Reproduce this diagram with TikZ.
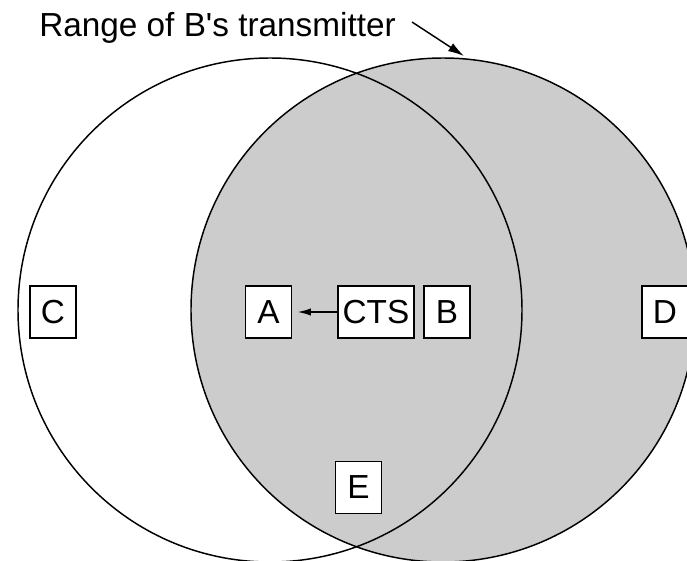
\documentclass[tikz,border=0pt]{standalone}
\usepackage{fontspec}
\setmainfont{Liberation Sans}
\newfontfamily\plainsans{Liberation Sans}
\usetikzlibrary{arrows.meta}
\definecolor{rangegray}{RGB}{204,204,204}
\tikzset{
  station/.style={draw=black, line width=1.1pt, fill=white, inner sep=0pt,
    minimum width=34.5pt, minimum height=39pt, font=\plainsans\fontsize{25}{29}\selectfont},
  rangecircle/.style={draw=black, line width=1.1pt},
  msgarrow/.style={line width=1.1pt, -{Latex[length=10pt,width=5.5pt]}}
}
\begin{document}
\begin{tikzpicture}[x=0.75pt, y=-0.75pt]
\useasboundingbox (0,0) rectangle (687,561);
% circles
\fill[white] (270,310) circle[radius=189pt];
\fill[rangegray] (443,310) circle[radius=189pt];
\draw[rangecircle] (443,310) circle[radius=189pt];
\draw[rangecircle] (270,310) circle[radius=189pt];
% title
\node[anchor=base west, inner sep=0pt, font=\plainsans\fontsize{25}{29}\selectfont] (title) at (39,36) {Range of B's transmitter};
\coordinate (tstart) at (412,22);
\coordinate (ttip) at (464,56);
\draw[line width=1.1pt, -{Latex[length=12pt,width=7pt]}] (tstart) -- (ttip);
% stations
\node[station] (C) at (53,312) {C};
\node[station] (A) at (268.5,312) {A};
\node[station, minimum width=57pt] (CTS) at (376,312) {CTS};
\node[station] (B) at (447,312) {B};
\node[station] (D) at (665,312) {D};
\node[station] (E) at (358.5,487.5) {E};
\draw[msgarrow, shorten >=4pt] (CTS) -- (A);
\end{tikzpicture}
\end{document}
